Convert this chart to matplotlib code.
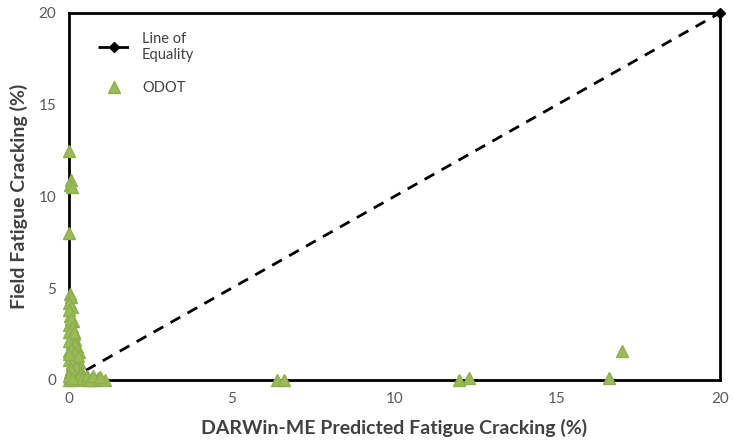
import matplotlib.pyplot as plt

# line of equality
eq_x = [0, 20]
eq_y = [0, 20]

# ODOT points (predicted, field)
odot_x = [0.0, 0.05, 0.02, 0.08, 0.0, 0.03, 0.06, 0.0, 0.1, 0.04, 0.12, 0.0, 0.08, 0.15,
          0.05, 0.2, 0.1, 0.25, 0.0, 0.3, 0.15, 0.2, 0.3, 0.35, 0.1, 0.25, 0.4, 0.05,
          0.5, 0.6, 0.7, 0.8, 0.9, 1.0, 1.1, 0.3, 0.45, 0.0, 0.1, 0.2,
          0.0, 0.05, 0.1, 0.0, 0.08, 0.15, 0.0, 0.12, 0.2, 0.05, 0.18, 0.28,
          0.0, 0.1, 0.22, 0.35, 0.02, 0.15, 0.3, 0.4, 0.55, 0.65, 0.75, 0.95,
          0.0, 0.06, 0.0, 0.1,
          6.4, 6.6, 12.0, 12.3, 16.6, 17.0]
odot_y = [12.5, 10.9, 10.6, 10.5, 8.0, 4.7, 4.5, 4.2, 4.0, 3.5, 3.2, 3.0, 2.8, 2.5,
          2.3, 2.2, 2.0, 1.8, 1.6, 1.5, 1.2, 1.0, 1.0, 0.6, 0.8, 0.5, 0.3, 0.3,
          0.1, 0.05, 0.1, 0.0, 0.1, 0.05, 0.0, 0.05, 0.0, 0.0, 0.0, 0.1,
          3.8, 3.3, 2.9, 2.6, 2.4, 2.6, 2.1, 1.9, 1.9, 1.7, 1.5, 1.3,
          1.1, 0.9, 0.7, 0.4, 0.45, 0.25, 0.15, 0.1, 0.2, 0.0, 0.2, 0.15,
          1.4, 0.6, 0.2, 0.1,
          0.0, 0.0, 0.0, 0.1, 0.1, 1.6]

plt.rcParams['font.family'] = ['Lato', 'DejaVu Sans']

fig = plt.figure(figsize=(7.33, 4.48), dpi=100)
ax = fig.add_axes([0.094, 0.152, 0.888, 0.819])

ax.plot(eq_x, eq_y, color='black', linestyle=(0, (4, 3)), linewidth=2,
        marker='D', markersize=5, markevery=[1], label='Line of\nEquality',
        zorder=2, clip_on=False)
ax.plot(odot_x, odot_y, linestyle='none', marker='^', markersize=9,
        color='#9BBB59', markeredgecolor='#8DAE4E', label='ODOT', zorder=3,
        clip_on=False)

ax.set_xlim(0, 20)
ax.set_ylim(0, 20)
ax.set_xticks([0, 5, 10, 15, 20])
ax.set_yticks([0, 5, 10, 15, 20])
ax.tick_params(length=0, labelsize=11, labelcolor='#595959', pad=9)
for s in ax.spines.values():
    s.set_linewidth(2)
    s.set_color('black')

ax.set_xlabel('DARWin-ME Predicted Fatigue Cracking (%)', fontsize=14,
              fontweight='bold', color='#404040', labelpad=9)
ax.set_ylabel('Field Fatigue Cracking (%)', fontsize=14,
              fontweight='bold', color='#404040', labelpad=8)

leg = ax.legend(loc='upper left', frameon=False, fontsize=10.5, handlelength=2.2,
                labelspacing=1.3, bbox_to_anchor=(0.025, 0.985))
for t in leg.get_texts():
    t.set_color('#404040')

fig.savefig('out.png', dpi=100)
